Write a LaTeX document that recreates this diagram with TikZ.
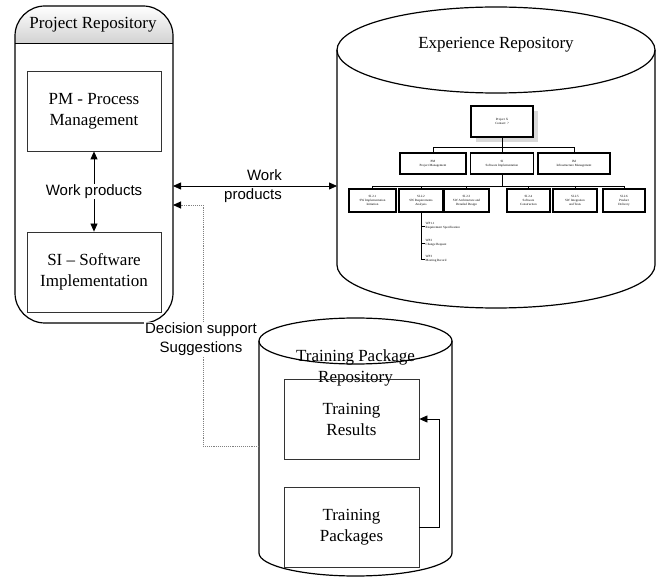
\documentclass[tikz,border=0pt]{standalone}
\usepackage{fontspec}
\setmainfont{Liberation Serif}
\setsansfont{Liberation Sans}
\usetikzlibrary{arrows.meta, positioning, calc, shadows}

\begin{document}
\begin{tikzpicture}[x=1pt, y=1pt, >={Triangle[length=8pt,width=7pt]},
    box/.style={draw=black!80, line width=0.8pt, minimum width=135pt, minimum height=80pt, align=center, font=\fontsize{17}{21}\selectfont},
    store/.style={line width=1.2pt},
    title/.style={font=\fontsize{17}{21}\selectfont, align=center},
    lbl/.style={font=\sffamily\fontsize{15}{19}\selectfont, align=center},
    wbox/.style={draw, fill=white, line width=1.3pt, minimum height=22pt, inner sep=0.5pt, align=center, font=\fontsize{3.2}{4}\selectfont},
    wsub/.style={inner sep=0.5pt, align=left, font=\fontsize{3.2}{4}\selectfont},
    wline/.style={line width=1pt}]
    \useasboundingbox (0,0) rectangle (659,-577);

    % Project repository
    \begin{scope}
        \clip[rounded corners=30pt] (15,-6) rectangle (173,-323);
        \shade[top color=white, bottom color=gray!35] (15,-6) rectangle (173,-43);
    \end{scope}
    \draw[store, rounded corners=30pt] (15,-6) rectangle (173,-323);
    \draw[line width=0.8pt] (15,-43) -- (173,-43);
    \node[title] (prjtitle) at (93,-25) {Project Repository};
    \node[box, minimum width=134pt] (pm) at (94,-111) {PM - Process\\Management};
    \node[box, minimum width=134pt] (si) at (94,-272) {SI -- Software\\Implementation};
    \draw[<->, line width=0.8pt] (pm.south) -- (si.north)
        node[midway, lbl, fill=white, inner sep=1pt] (wpinner) {Work products};

    % Experience repository
    \draw[store] (496,-50) ellipse (159 and 43);
    \draw[store] (337,-50) -- (337,-265) arc[start angle=180, end angle=360, x radius=159, y radius=43] -- (655,-50);
    \node[title] (exptitle) at (496,-45) {Experience Repository};

    % Training package repository
    \draw[store] (355.5,-341) ellipse (96.5 and 23);
    \draw[store] (259,-341) -- (259,-553) arc[start angle=180, end angle=360, x radius=96.5, y radius=23] -- (452,-341);
    \node[title] (trtitle) at (355.5,-367.5) {Training Package\\Repository};
    \node[box] (trres) at (351.5,-419) {Training\\Results};
    \node[box] (trpack) at (351.5,-527) {Training\\Packages};
    \draw[->, line width=0.8pt] (trpack.east) -- ++(20,0) |- (trres.east);

    % WBS inside the experience repository
    \node[wbox, minimum width=62pt, minimum height=31pt, line width=1.8pt,
        drop shadow={shadow xshift=5pt, shadow yshift=-5pt, fill=gray!30, opacity=1}] (wroot) at (502,-121.5) {Project X\\Contact: ?};
    \node[wbox, minimum width=66pt, minimum height=21pt] (wpm) at (433,-163.5) {PM\\Project Management};
    \node[wbox, minimum width=63pt, minimum height=21pt, line width=1.8pt] (wsi) at (502,-163.5) {SI\\Software Implementation};
    \node[wbox, minimum width=72pt, minimum height=21pt] (wim) at (574,-163.5) {IM\\Infrastructure Management};
    \draw[wline] (wroot.south) -- (wsi.north);
    \foreach \n in {wpm, wim}
        \draw[wline] (wroot.south) -- ++(0,-10) -| (\n.north);
    \foreach \n/\x/\w/\t in {w1/372.5/47/{SI.2.1\\SW Implementation\\Initiation},
                            w2/421/44/{SI.2.2\\SW Requirements\\Analysis},
                            w3/466.5/45/{SI.2.3\\SW Architecture and\\Detailed Design},
                            w4/528.5/43/{SI.2.4\\Software\\Construction},
                            w5/575/44/{SI.2.5\\SW Integration\\and Tests},
                            w6/624/42/{SI.2.6\\Product\\Delivery}} {
        \node[wbox, minimum width=\w pt, minimum height=23pt] (\n) at (\x,-200.5) {\t};
        \draw[wline] (wsi.south) -- ++(0,-12) -| (\n.north);
    }
    \node[wsub, anchor=west] (wp1) at (425,-226) {WP1.1\\Requirement Specification};
    \node[wsub, anchor=west] (wp2) at (425,-243) {WP2\\Change Request};
    \node[wsub, anchor=west] (wp3) at (425,-259) {WP3\\Meeting Record};
    \foreach \n in {wp1, wp2, wp3}
        \draw[line width=0.7pt] (w2.south) |- (\n.west);

    % Links between the repositories
    \coordinate (prjE) at (173,-186);
    \coordinate (expW) at (337,-186);
    \draw[<->, line width=0.8pt] (prjE) -- (expW);
    \node[lbl, align=right] (wplabel) at (253,-186) {Work\\products};
    \coordinate (trW) at (259,-446);
    \coordinate (dsbend) at (203,-446);
    \coordinate (prjE2) at (173,-205);
    \draw[-{Triangle[length=8pt,width=7pt,color=black]}, gray, densely dotted, line width=0.9pt] (trW) -- (dsbend) |- (prjE2);
    \node[lbl, fill=white, inner sep=1pt] (dslabel) at (201,-339) {Decision support\\Suggestions};
\end{tikzpicture}
\end{document}
